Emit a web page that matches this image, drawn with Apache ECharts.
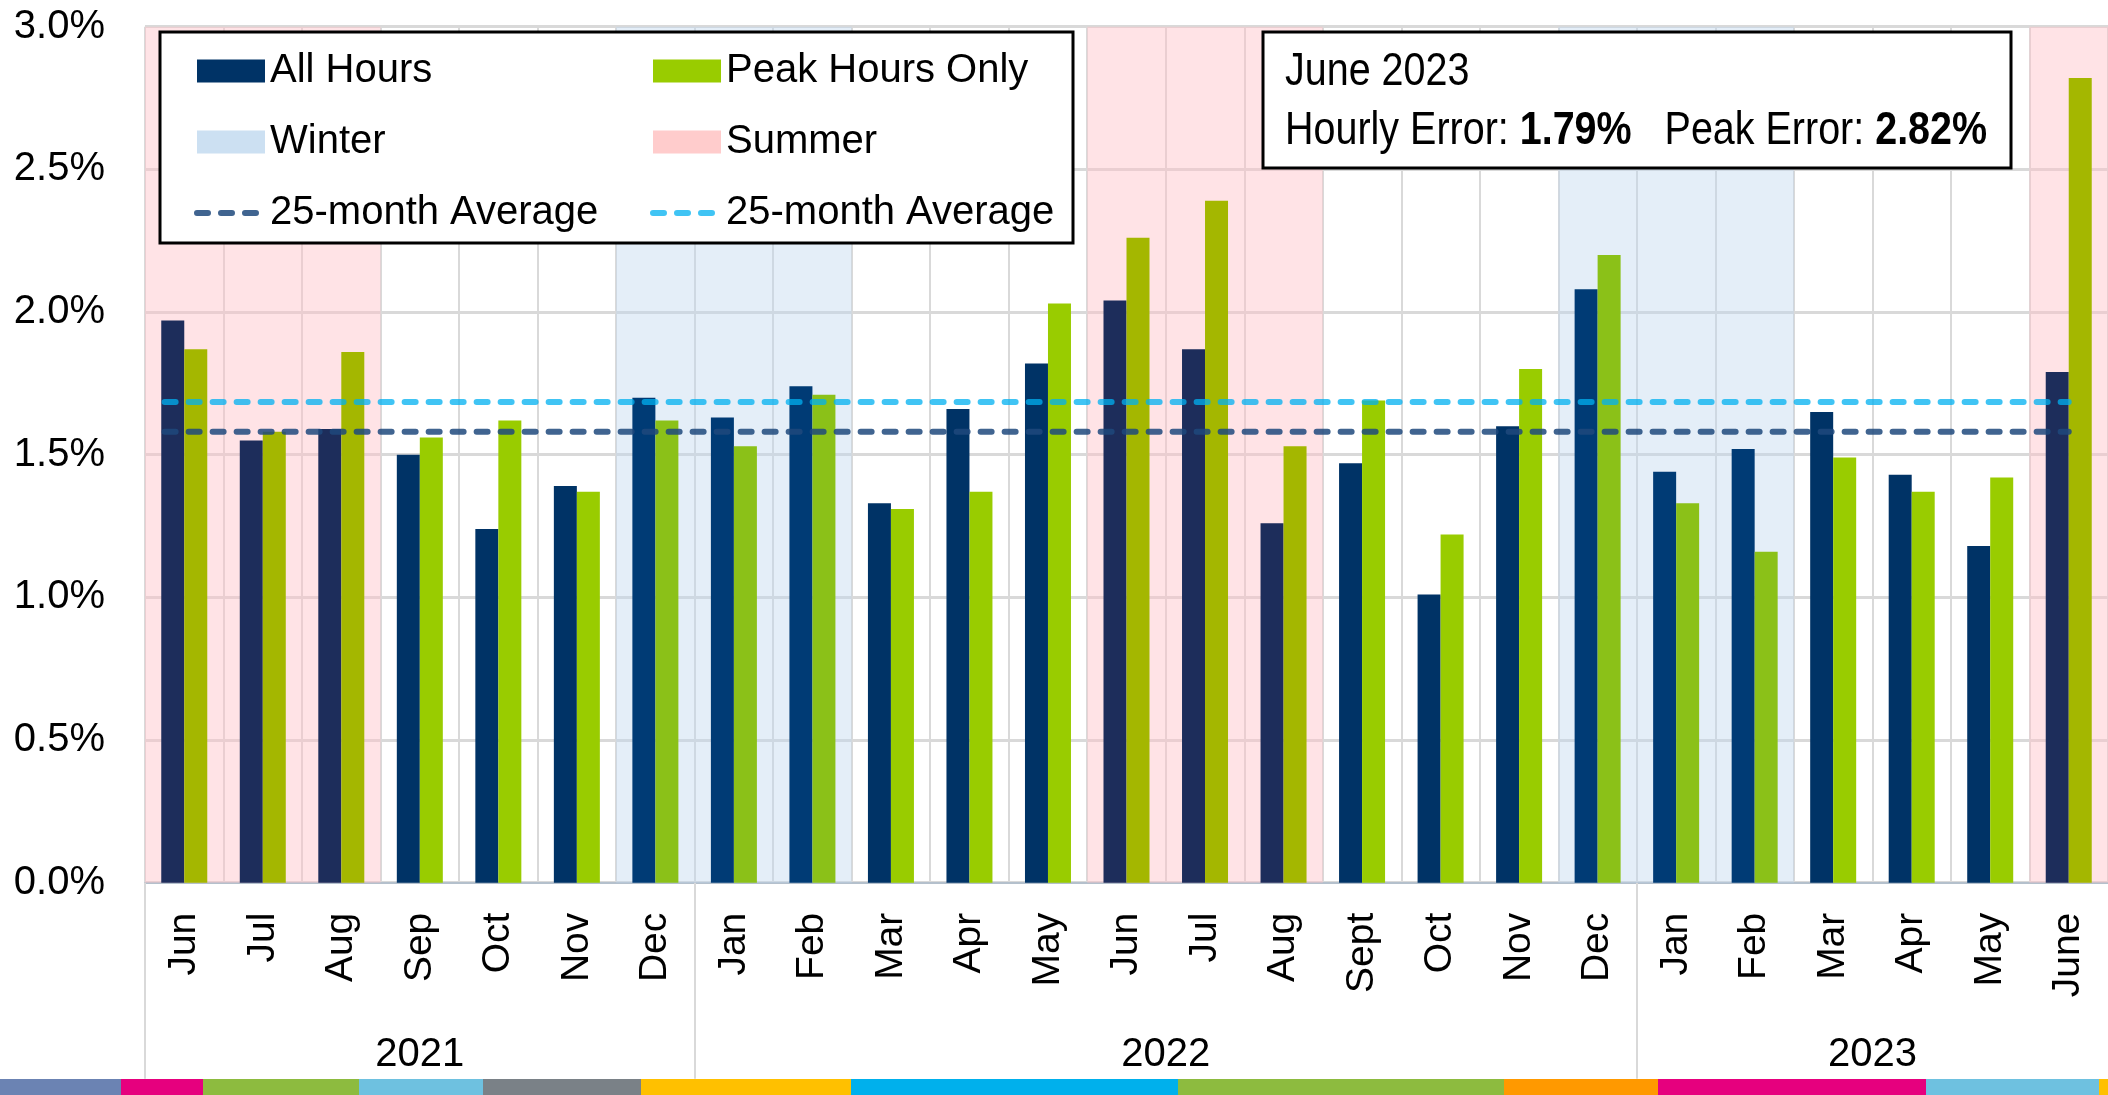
<!DOCTYPE html>
<html>
<head>
<meta charset="utf-8">
<script src="https://cdn.jsdelivr.net/npm/echarts@6/dist/echarts.min.js"></script>
<style>
html, body { margin: 0; padding: 0; background: #fff; }
#chart { width: 2108px; height: 1095px; }
</style>
</head>
<body>
<div id="chart"></div>
<script>
// monthly forecast error, Jun 2021 - Jun 2023
var months = ['Jun','Jul','Aug','Sep','Oct','Nov','Dec','Jan','Feb','Mar','Apr','May',
              'Jun','Jul','Aug','Sept','Oct','Nov','Dec','Jan','Feb','Mar','Apr','May','June'];
var years = ['2021', '2022', '2023'];
var yearSpans = [7, 12, 6];
var allHours  = [1.97,1.55,1.59,1.50,1.24,1.39,1.70,1.63,1.74,1.33,1.66,1.82,
                 2.04,1.87,1.26,1.47,1.01,1.60,2.08,1.44,1.52,1.65,1.43,1.18,1.79];
var peakHours = [1.87,1.58,1.86,1.56,1.62,1.37,1.62,1.53,1.71,1.31,1.37,2.03,
                 2.26,2.39,1.53,1.69,1.22,1.80,2.20,1.33,1.16,1.49,1.37,1.42,2.82];
var season = ['S','S','S','','','','W','W','W','','','',
              'S','S','S','','','','W','W','W','','','','S'];
var avgAll = 1.58;
var avgPeak = 1.685;

// no narrow face installed: plain Arial metrics at a smaller size keep the widths
var FONT = "'Liberation Sans', Arial, sans-serif";
var NARROW = 0.84;

var barColors = {
    S: ['#1D2D5B', '#A4B700'],
    W: ['#003B75', '#8BC118'],
    '': ['#003366', '#99CC00']
};

function seasonAreas(code) {
    var out = [], start = -1;
    for (var i = 0; i <= season.length; i++) {
        if (season[i] === code) {
            if (start < 0) start = i;
        } else if (start >= 0) {
            out.push([{ xAxis: start }, { xAxis: i }]);
            start = -1;
        }
    }
    return out;
}

var yearCenters = [], yearEdges = [0], acc = 0;
yearSpans.forEach(function (s) {
    yearCenters.push(acc + s / 2);
    acc += s;
    yearEdges.push(acc);
});

function barData(vals, k) {
    return vals.map(function (v, i) {
        return { value: v, itemStyle: { color: barColors[season[i]][k] } };
    });
}

var dom = document.getElementById('chart');
var myChart = echarts.init(dom);

var stripe = [
    [0, 121, '#6B83B3'], [121, 203, '#E6007E'], [203, 359, '#8DBB3F'], [359, 483, '#6EC1E0'],
    [483, 641, '#7A8187'], [641, 851, '#FFC000'], [851, 1178, '#00B0EC'], [1178, 1504, '#8DBB3F'],
    [1504, 1658, '#FF9900'], [1658, 1926, '#E6007E'], [1926, 2099, '#6EC1E0'], [2099, 2108, '#FFC000']
];

var graphics = stripe.map(function (s) {
    return { type: 'rect', shape: { x: s[0], y: 1079, width: s[1] - s[0], height: 16 }, style: { fill: s[2] }, z: 3 };
});
// legend frame
graphics.push({ type: 'rect', shape: { x: 160, y: 32, width: 913, height: 211 },
    style: { fill: '#fff', stroke: '#000', lineWidth: 3 }, z: 3 });
// June 2023 call-out
var last = months.length - 1;
graphics.push({ type: 'rect', shape: { x: 1263, y: 32, width: 748, height: 136 },
    style: { fill: '#fff', stroke: '#000', lineWidth: 3 }, z: 3 });
graphics.push({ type: 'text', z: 4, x: 1285, y: 72, scaleX: NARROW,
    style: { x: 0, y: 0, text: 'June 2023', fill: '#000', fontSize: 47, fontFamily: FONT, verticalAlign: 'middle' } });
graphics.push({ type: 'text', z: 4, x: 1285, y: 131, scaleX: NARROW,
    style: { x: 0, y: 0, fill: '#000', fontSize: 47, fontFamily: FONT, verticalAlign: 'middle',
        text: '{n|Hourly Error: }{b|' + allHours[last].toFixed(2) + '%}{n|   Peak Error: }{b|' + peakHours[last].toFixed(2) + '%}',
        rich: {
            n: { fontSize: 47, fontFamily: FONT, fill: '#000' },
            b: { fontSize: 47, fontFamily: FONT, fontWeight: 'bold', fill: '#000' }
        } } });

var legendText = { fontSize: 40, fontFamily: FONT, color: '#000' };
var hideDot = { opacity: 0 };

option = {
    animation: false,
    backgroundColor: '#fff',
    grid: { left: 145, right: -4, top: 26.7, bottom: 212.3, containLabel: false },
    legend: [
        {
            orient: 'vertical', left: 194, top: 51, padding: 0, itemGap: 31,
            itemWidth: 68, itemHeight: 23, selectedMode: false, textStyle: legendText,
            lineStyle: { width: 6, cap: 'round' },
            data: [{ name: 'All Hours', icon: 'rect' }, { name: 'Winter', icon: 'rect' },
                   { name: '25-month Average', itemStyle: hideDot }]
        },
        {
            orient: 'vertical', left: 650, top: 51, padding: 0, itemGap: 31,
            itemWidth: 68, itemHeight: 23, selectedMode: false, textStyle: legendText,
            lineStyle: { width: 6, cap: 'round' },
            data: [{ name: 'Peak Hours Only', icon: 'rect' }, { name: 'Summer', icon: 'rect' },
                   { name: '25-month Average ', itemStyle: hideDot }]
        }
    ],
    xAxis: [
        {
            type: 'category',
            data: months,
            boundaryGap: true,
            axisLine: { lineStyle: { color: '#B4C0CC', width: 2 } },
            axisTick: { show: false },
            splitLine: { show: true, interval: 0, lineStyle: { color: '#D9D9D9', width: 2 } },
            axisLabel: { interval: 0, rotate: 90, margin: 30, fontSize: 39, fontFamily: FONT, color: '#000' }
        },
        {
            type: 'value',
            min: 0,
            max: months.length,
            position: 'bottom',
            axisLine: { show: false },
            splitLine: { show: false },
            axisTick: { show: true, customValues: yearEdges.slice(0, -1), length: 196,
                lineStyle: { color: '#D9D9D9', width: 2 } },
            axisLabel: { customValues: yearCenters, margin: 152, fontSize: 40, fontFamily: FONT, color: '#000',
                formatter: function (v) { return years[yearCenters.indexOf(v)] || ''; } }
        }
    ],
    yAxis: {
        type: 'value',
        min: 0,
        max: 3,
        interval: 0.5,
        axisLine: { show: false },
        axisTick: { show: false },
        splitLine: { lineStyle: { color: '#D9D9D9', width: 3 } },
        axisLabel: { margin: 40, fontSize: 40, fontFamily: FONT, color: '#000',
            formatter: function (v) { return v.toFixed(1) + '%'; } }
    },
    series: [
        {
            name: 'Winter', type: 'line', xAxisIndex: 1, data: [], symbol: 'none',
            itemStyle: { color: '#CCE0F2' },
            markArea: { silent: true, itemStyle: { color: 'rgba(190,215,238,0.42)' }, data: seasonAreas('W') }
        },
        {
            name: 'Summer', type: 'line', xAxisIndex: 1, data: [], symbol: 'none',
            itemStyle: { color: '#FFCCCC' },
            markArea: { silent: true, itemStyle: { color: 'rgba(255,192,200,0.45)' }, data: seasonAreas('S') }
        },
        {
            name: 'All Hours', type: 'bar', barWidth: 23, barGap: '0%',
            itemStyle: { color: '#003366' },
            data: barData(allHours, 0)
        },
        {
            name: 'Peak Hours Only', type: 'bar', barWidth: 23, barGap: '0%',
            itemStyle: { color: '#99CC00' },
            data: barData(peakHours, 1)
        },
        {
            name: '25-month Average', type: 'line', xAxisIndex: 1, symbol: 'none', z: 3,
            itemStyle: { color: 'rgba(31,73,125,0.85)' },
            lineStyle: { color: 'rgba(31,73,125,0.85)', width: 6, type: [11, 13], cap: 'round' },
            data: [[0.25, avgAll], [24.5, avgAll]]
        },
        {
            name: '25-month Average ', type: 'line', xAxisIndex: 1, symbol: 'none', z: 3,
            itemStyle: { color: 'rgba(0,176,240,0.75)' },
            lineStyle: { color: 'rgba(0,176,240,0.75)', width: 6, type: [11, 13], cap: 'round' },
            data: [[0.25, avgPeak], [24.5, avgPeak]]
        }
    ],
    graphic: graphics
};

myChart.setOption(option);
</script>
</body>
</html>
